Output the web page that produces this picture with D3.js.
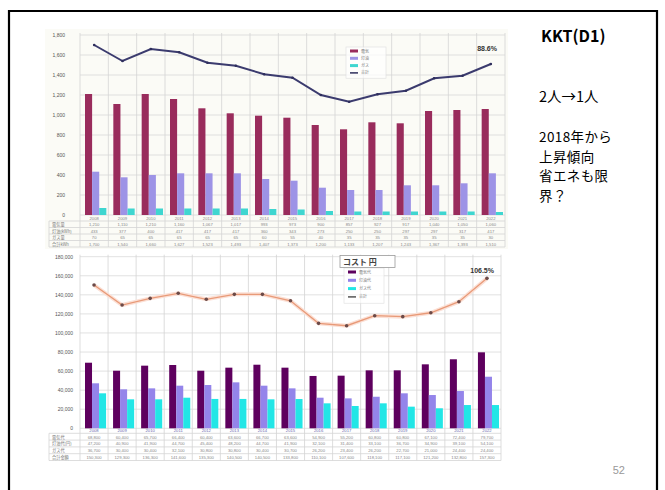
<!DOCTYPE html>
<html>
<head>
<meta charset="utf-8">
<script src="https://cdn.jsdelivr.net/npm/d3@7"></script>
<style>
  body { margin: 0; background: #fff; }
  svg { display: block; }
</style>
</head>
<body>
<div class="canvas"></div>
<script>
// Data
const years = ['2008', '2009', '2010', '2011', '2012', '2013', '2014', '2015', '2016', '2017', '2018', '2019', '2020', '2021', '2022']

// top chart: energy use
const energySeries = ['電気', '灯油', 'ガス', '合計']
const energyElec = [1210, 1110, 1210, 1160, 1067, 1017, 993, 973, 900, 857, 927, 917, 1040, 1050, 1060]
const energyKerosene = [433, 377, 400, 417, 417, 417, 360, 343, 273, 250, 250, 297, 297, 317, 417]
const energyGas = [70, 65, 65, 65, 65, 65, 60, 55, 40, 35, 35, 35, 35, 35, 30]
const energyTotal = [1700, 1540, 1660, 1627, 1523, 1493, 1407, 1373, 1200, 1133, 1207, 1243, 1367, 1393, 1510]
const energyTicks = [0, 200, 400, 600, 800, 1000, 1200, 1400, 1600, 1800]
const energyRows = ['電気量', '灯油(kWh)', 'ガス量', '合計kWh']
const energyRatio = '88.6%'

// bottom chart: cost in yen
const costSeries = ['電気代', '灯油代', 'ガス代', '合計']
const costElec = [68800, 60400, 65700, 66400, 60400, 63600, 66700, 63600, 54900, 55200, 60800, 60800, 67100, 72400, 79700]
const costKerosene = [47200, 40900, 41900, 44700, 45400, 48200, 44700, 41900, 32100, 31400, 33100, 36700, 34900, 39100, 54100]
const costGas = [36700, 30400, 30400, 32100, 30800, 30800, 30400, 30700, 26200, 23400, 26200, 22700, 21000, 24400, 24400]
const costTotal = [150300, 129300, 136300, 141600, 135300, 140500, 140500, 133800, 110100, 107600, 118100, 117100, 121200, 132800, 157300]
const costTicks = [0, 20000, 40000, 60000, 80000, 100000, 120000, 140000, 160000, 180000]
const costRows = ['電気代', '灯油代(円)', 'ガス代', '合計金額']
const costRatio = '106.5%'
const costTitle = 'コスト 円'

// side notes
const noteTitle = 'KKT(D1)'
const noteFirst = '2人→1人'
const noteLines = ['2018年から', '上昇傾向', '省エネも限', '界？']

const svg = d3.select('.canvas')
  .append('svg')
    .attr('width', 665)
    .attr('height', 490)

const tickFont = 'Liberation Sans, Arial, sans-serif'
const jpFont = 'Noto Sans CJK JP, sans-serif'

// Draws one chart (bars + total line + data table)
const drawChart = opts => {
  const g = svg.append('g')

  // picture background
  g.append('rect')
    .attr('x', opts.box[0]).attr('y', opts.box[1])
    .attr('width', opts.box[2]).attr('height', opts.box[3])
    .attr('fill', opts.bg)

  const x = d3.scaleBand()
    .domain(years)
    .range([opts.left, opts.right])
    .paddingInner(0)
    .paddingOuter(0)
  const bw = x.bandwidth()

  const xSub = d3.scaleBand()
    .domain([0, 1, 2])
    .range([5, bw - 2])

  const y = d3.scaleLinear()
    .domain([0, d3.max(opts.ticks)])
    .range([opts.bottom, opts.top])

  // horizontal grid
  g.selectAll('.hgrid')
    .data(opts.ticks)
    .enter().append('line')
      .attr('x1', opts.left).attr('x2', opts.right)
      .attr('y1', d => y(d)).attr('y2', d => y(d))
      .attr('stroke', '#d9d9d9')
      .attr('stroke-width', 0.8)

  // table layout
  const rowH = opts.rowH
  const tableTop = opts.bottom
  const yearRowBottom = tableTop + opts.yearH
  const tableBottom = yearRowBottom + rowH * 4

  // vertical grid (through plot and table)
  g.selectAll('.vgrid')
    .data(years.concat(['end']))
    .enter().append('line')
      .attr('x1', d => d === 'end' ? opts.right : x(d))
      .attr('x2', d => d === 'end' ? opts.right : x(d))
      .attr('y1', opts.top - 2)
      .attr('y2', tableBottom)
      .attr('stroke', '#d4d4d4')
      .attr('stroke-width', 0.8)

  // table horizontal lines
  const rowLines = [yearRowBottom, yearRowBottom + rowH, yearRowBottom + rowH * 2, yearRowBottom + rowH * 3, tableBottom]
  g.selectAll('.rowline')
    .data(rowLines)
    .enter().append('line')
      .attr('x1', opts.box[0] + 4).attr('x2', opts.right)
      .attr('y1', d => d).attr('y2', d => d)
      .attr('stroke', '#d4d4d4')
      .attr('stroke-width', 0.8)
  g.append('line')
    .attr('x1', opts.box[0] + 4).attr('x2', opts.box[0] + 4)
    .attr('y1', yearRowBottom).attr('y2', tableBottom)
    .attr('stroke', '#d4d4d4').attr('stroke-width', 0.8)

  // bars
  opts.bars.forEach((values, s) => {
    g.selectAll('.bar' + s)
      .data(values)
      .enter().append('rect')
        .attr('x', (d, i) => x(years[i]) + xSub(s))
        .attr('y', d => y(d))
        .attr('width', xSub.bandwidth())
        .attr('height', d => opts.bottom - y(d))
        .attr('fill', opts.colors[s])
  })

  // total line
  const line = d3.line()
    .x((d, i) => x(years[i]) + bw / 2)
    .y(d => y(d))
  if (opts.glow) {
    g.append('path')
      .attr('d', line(opts.line))
      .attr('fill', 'none')
      .attr('stroke', opts.glow)
      .attr('stroke-width', 4)
  }
  g.append('path')
    .attr('d', line(opts.line))
    .attr('fill', 'none')
    .attr('stroke', opts.lineColor)
    .attr('stroke-width', opts.lineWidth)
  g.selectAll('.marker')
    .data(opts.line)
    .enter().append('circle')
      .attr('cx', (d, i) => x(years[i]) + bw / 2)
      .attr('cy', d => y(d))
      .attr('r', opts.markerR)
      .attr('fill', opts.markerColor)

  // y axis
  const yAxis = d3.axisLeft(y)
    .tickValues(opts.ticks)
    .tickSize(0)
    .tickPadding(opts.labelGap)
    .tickFormat(d3.format(','))
  const yAxisGroup = g.append('g')
    .attr('transform', `translate(${opts.left},0)`)
    .call(yAxis)
  yAxisGroup.select('.domain').remove()
  yAxisGroup.selectAll('text')
    .attr('font-family', tickFont)
    .attr('font-size', 5)
    .attr('fill', '#555')

  // year row
  g.selectAll('.year')
    .data(years)
    .enter().append('text')
      .attr('x', d => x(d) + bw / 2)
      .attr('y', tableTop + opts.yearH - 1.2)
      .attr('text-anchor', 'middle')
      .attr('font-family', tickFont)
      .attr('font-size', 4.2)
      .attr('fill', opts.yearColor)
      .text(d => d)

  // data rows
  const rowValues = opts.bars.concat([opts.line])
  rowValues.forEach((values, r) => {
    const ty = yearRowBottom + rowH * (r + 1) - 1.5
    g.append('text')
      .attr('x', opts.box[0] + 7)
      .attr('y', ty)
      .attr('font-family', jpFont)
      .attr('font-size', 4.2)
      .attr('fill', '#777')
      .text(opts.rows[r])
    g.selectAll('.cell' + r)
      .data(values)
      .enter().append('text')
        .attr('x', (d, i) => x(years[i]) + bw / 2)
        .attr('y', ty)
        .attr('text-anchor', 'middle')
        .attr('font-family', tickFont)
        .attr('font-size', 4.2)
        .attr('fill', '#888')
        .text(d => d3.format(',')(d))
  })

  // ratio label
  g.append('text')
    .attr('x', opts.ratioPos[0]).attr('y', opts.ratioPos[1])
    .attr('text-anchor', 'end')
    .attr('font-family', tickFont)
    .attr('font-size', 7)
    .attr('font-weight', 'bold')
    .attr('fill', '#333')
    .text(opts.ratio)

  // legend
  const lg = g.append('g')
    .attr('transform', `translate(${opts.legendPos[0]},${opts.legendPos[1]})`)
  lg.append('rect')
    .attr('x', -4).attr('y', -4)
    .attr('width', 40).attr('height', opts.legendStep * 4 + 2)
    .attr('fill', '#fff')
    .attr('fill-opacity', 0.7)
    .attr('stroke', '#ddd')
    .attr('stroke-width', 0.6)
  opts.series.forEach((name, i) => {
    const ly = i * opts.legendStep
    if (i < 3) {
      lg.append('rect')
        .attr('x', 0).attr('y', ly - 1.5)
        .attr('width', 8).attr('height', 3)
        .attr('fill', opts.colors[i])
    } else {
      lg.append('line')
        .attr('x1', 0).attr('x2', 8)
        .attr('y1', ly).attr('y2', ly)
        .attr('stroke', opts.legendLine)
        .attr('stroke-width', 1.5)
    }
    lg.append('text')
      .attr('x', 11).attr('y', ly + 1.5)
      .attr('font-family', jpFont)
      .attr('font-size', 4)
      .attr('fill', '#777')
      .text(name)
  })

  return g
}

// top chart
drawChart({
  box: [45, 29, 463, 220],
  bg: '#fbfbf6',
  left: 80, right: 505, top: 35, bottom: 215,
  ticks: energyTicks,
  bars: [energyElec, energyKerosene, energyGas],
  colors: ['#992c5c', '#9d93e6', '#3fd6d0'],
  line: energyTotal,
  lineColor: '#3b3b6e',
  lineWidth: 2,
  markerR: 1.3,
  markerColor: '#2e2e5c',
  labelGap: 15,
  yearH: 6,
  rowH: 6.5,
  yearColor: '#888',
  rows: energyRows,
  ratio: energyRatio,
  ratioPos: [497, 51],
  series: energySeries,
  legendPos: [350, 51],
  legendStep: 7.3,
  legendLine: '#2e2e5c'
})

// bottom chart
const bottomChart = drawChart({
  box: [45, 253, 459, 210],
  bg: '#ffffff',
  left: 80, right: 501, top: 256.7, bottom: 428.3,
  ticks: costTicks,
  bars: [costElec, costKerosene, costGas],
  colors: ['#5e005e', '#9484ea', '#22e6e6'],
  line: costTotal,
  lineColor: '#e89a78',
  glow: '#fbe0d6',
  lineWidth: 1.3,
  markerR: 1.8,
  markerColor: '#6b4a48',
  labelGap: 7,
  yearH: 5,
  rowH: 6.8,
  yearColor: '#6a6ab0',
  rows: costRows,
  ratio: costRatio,
  ratioPos: [494, 273],
  series: costSeries,
  legendPos: [348, 272],
  legendStep: 8.3,
  legendLine: '#555'
})

// cost legend title box
bottomChart.append('rect')
  .attr('x', 340).attr('y', 255.5)
  .attr('width', 55).attr('height', 12)
  .attr('fill', '#fff')
  .attr('stroke', '#999')
  .attr('stroke-width', 0.8)
bottomChart.append('text')
  .attr('x', 343).attr('y', 265)
  .attr('font-family', jpFont)
  .attr('font-size', 8)
  .attr('font-weight', 'bold')
  .attr('fill', '#444')
  .text(costTitle)

// slide frame
svg.append('path')
  .attr('d', 'M9,490 L9,11 L657,11 L657,490')
  .attr('fill', 'none')
  .attr('stroke', '#000')
  .attr('stroke-width', 2.2)

// side notes
svg.append('text')
  .attr('x', 541).attr('y', 42)
  .attr('font-family', jpFont)
  .attr('font-size', 16)
  .attr('font-weight', 'bold')
  .attr('fill', '#000')
  .text(noteTitle)

svg.append('text')
  .attr('x', 539).attr('y', 102)
  .attr('font-family', jpFont)
  .attr('font-size', 14.5)
  .attr('fill', '#000')
  .text(noteFirst)

// one text block, one line per tspan
const noteBlock = svg.append('text')
  .attr('x', 539).attr('y', 142)
  .attr('font-family', jpFont)
  .attr('font-size', 13.5)
  .attr('letter-spacing', 0.4)
  .attr('fill', '#000')
noteBlock.selectAll('tspan')
  .data(noteLines)
  .enter().append('tspan')
    .attr('x', 539)
    .attr('dy', (d, i) => i === 0 ? 0 : 19.6)
    .text(d => d)

svg.append('text')
  .attr('x', 625).attr('y', 474)
  .attr('text-anchor', 'end')
  .attr('font-family', tickFont)
  .attr('font-size', 11)
  .attr('fill', '#999')
  .text('52')
</script>
</body>
</html>
